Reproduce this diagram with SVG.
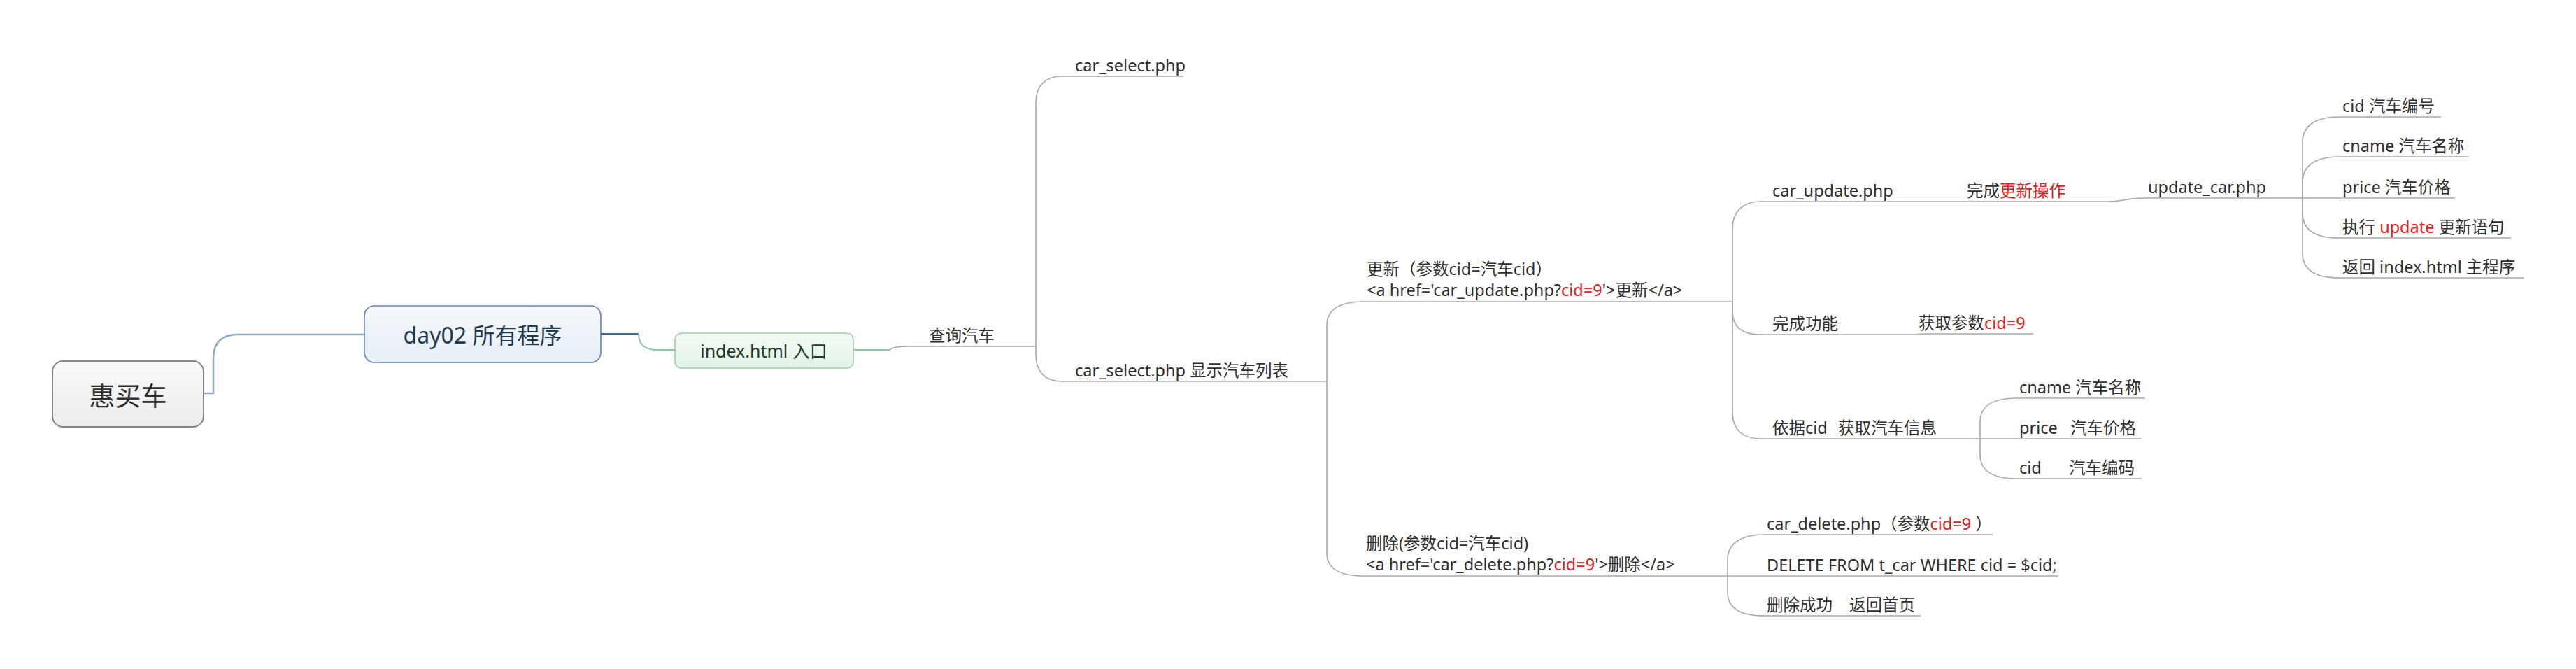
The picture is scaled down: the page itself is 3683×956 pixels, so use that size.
<svg xmlns="http://www.w3.org/2000/svg" width="3683" height="956" viewBox="0 0 3683 956">
<defs>
<linearGradient id="gRoot" x1="0" y1="0" x2="0" y2="1"><stop offset="0" stop-color="#f9f9f9"/><stop offset="1" stop-color="#ececec"/></linearGradient>
<linearGradient id="gMain" x1="0" y1="0" x2="0" y2="1"><stop offset="0" stop-color="#f5f8fc"/><stop offset="1" stop-color="#e6eef7"/></linearGradient>
<linearGradient id="gSub" x1="0" y1="0" x2="0" y2="1"><stop offset="0" stop-color="#f2faf3"/><stop offset="1" stop-color="#e3f3e6"/></linearGradient>
</defs>
<style>
text{font-family:"Noto Sans","Noto Sans CJK SC",sans-serif;fill:#2f2f2f;}
.t{font-size:23.5px;}
.r{fill:#e0201b;}
.c{fill:none;stroke:#a8a8a8;stroke-width:1.6;}
</style>
<rect width="3683" height="956" fill="#ffffff"/>
<g id="connectors">
<path d="M291,562 H305 V513 Q305,478 340,478 H521" fill="none" stroke="#8ba9c6" stroke-width="2.5"/>
<path d="M859,477 H913" fill="none" stroke="#3f6b8c" stroke-width="2"/>
<path d="M913,477 Q913,500 940,500 H965" fill="none" stroke="#92c9a2" stroke-width="2"/>
<path d="M1220,500 H1272" fill="none" stroke="#92c9a2" stroke-width="2"/>
<path class="c" d="M1272,500 Q1276,495 1300,495 H1481"/>
<path class="c" d="M1481,495 V147 C1481,122 1495,109 1518,109 H1692"/>
<path class="c" d="M1481,495 V507 C1481,532 1495,545 1518,545 H1897"/>
<path class="c" d="M1897,545 V465 C1897,442 1915,431 1950,431 H2477"/>
<path class="c" d="M1897,545 V790 C1897,813 1915,823 1950,823 H2470"/>
<path class="c" d="M2477,431 V327 C2477,302 2492,288 2517,288 H3015"/>
<path class="c" d="M2477,431 V445 C2477,468 2492,478 2517,478 H2740"/>
<path class="c" d="M2740,478 Q2745,477 2760,477 H2907"/>
<path class="c" d="M2477,431 V590 C2477,614 2492,627 2517,627 H2831"/>
<path class="c" d="M3015,288 C3035,288 3040,283 3067,283 H3292"/>
<path class="c" d="M3292,283 V203 C3292,180 3310,167 3345,167 H3490"/>
<path class="c" d="M3292,283 V260 C3292,237 3310,224 3345,224 H3529"/>
<path class="c" d="M3292,283 H3510"/>
<path class="c" d="M3292,283 V305 C3292,328 3310,340 3345,340 H3590"/>
<path class="c" d="M3292,283 V362 C3292,385 3310,397 3345,397 H3608"/>
<path class="c" d="M2831,627 V603 C2831,580 2850,569 2883,569 H3067"/>
<path class="c" d="M2831,627 H3061"/>
<path class="c" d="M2831,627 V650 C2831,673 2850,684 2883,684 H3062"/>
<path class="c" d="M2470,823 V800 C2470,776 2490,764 2522,764 H2849"/>
<path class="c" d="M2470,823 H2943"/>
<path class="c" d="M2470,823 V846 C2470,870 2490,880 2522,880 H2746"/>
</g>
<g id="n-root">
<rect x="75" y="516" width="216" height="94" rx="15" fill="url(#gRoot)" stroke="#858585" stroke-width="2"/>
<text x="183" y="565" font-size="37" text-anchor="middle" dominant-baseline="central">惠买车</text>
</g>
<g id="n-day02">
<rect x="521" y="437" width="338" height="81" rx="14" fill="url(#gMain)" stroke="#6384aa" stroke-width="1.6"/>
<text x="690" y="478" font-size="32" text-anchor="middle" dominant-baseline="central" style="fill:#223a4e">day02 所有程序</text>
</g>
<g id="n-index">
<rect x="965" y="476" width="255" height="50" rx="9" fill="url(#gSub)" stroke="#9ccfab" stroke-width="1.6"/>
<text x="1092" y="501" font-size="25" text-anchor="middle" dominant-baseline="central" style="fill:#263a2c">index.html 入口</text>
</g>
<g id="n-query"><text class="t" x="1328" y="488">查询汽车</text></g>
<g id="n-select1"><text class="t" x="1537" y="102">car_select.php</text></g>
<g id="n-select2"><text class="t" x="1537" y="538">car_select.php 显示汽车列表</text></g>
<g id="n-update">
<text class="t" x="1954" y="393">更新（参数cid=汽车cid）</text>
<text class="t" x="1954" y="423">&lt;a href='car_update.php?<tspan class="r">cid=9</tspan>'&gt;更新&lt;/a&gt;</text>
</g>
<g id="n-delete">
<text class="t" x="1953" y="785">删除(参数cid=汽车cid)</text>
<text class="t" x="1953" y="815">&lt;a href='car_delete.php?<tspan class="r">cid=9</tspan>'&gt;删除&lt;/a&gt;</text>
</g>
<g id="n-car-update"><text class="t" x="2534" y="281">car_update.php</text></g>
<g id="n-finish-update"><text class="t" x="2812" y="281">完成<tspan class="r">更新操作</tspan></text></g>
<g id="n-update-car"><text class="t" x="3071" y="276">update_car.php</text></g>
<g id="n-u1"><text class="t" x="3349" y="160">cid 汽车编号</text></g>
<g id="n-u2"><text class="t" x="3349" y="217">cname 汽车名称</text></g>
<g id="n-u3"><text class="t" x="3349" y="276">price 汽车价格</text></g>
<g id="n-u4"><text class="t" x="3349" y="333">执行 <tspan class="r">update</tspan> 更新语句</text></g>
<g id="n-u5"><text class="t" x="3349" y="390">返回 index.html 主程序</text></g>
<g id="n-finish"><text class="t" x="2534" y="471">完成功能</text></g>
<g id="n-getparam"><text class="t" x="2743" y="470">获取参数<tspan class="r">cid=9</tspan></text></g>
<g id="n-bycid"><text class="t" x="2534" y="620">依据cid<tspan x="2628">获取汽车信息</tspan></text></g>
<g id="n-c1"><text class="t" x="2887" y="562">cname 汽车名称</text></g>
<g id="n-c2"><text class="t" x="2887" y="620">price<tspan x="2960">汽车价格</tspan></text></g>
<g id="n-c3"><text class="t" x="2887" y="677">cid<tspan x="2958">汽车编码</tspan></text></g>
<g id="n-d1"><text class="t" x="2526" y="757">car_delete.php（参数<tspan class="r">cid=9</tspan> ）</text></g>
<g id="n-d2"><text class="t" x="2526" y="816">DELETE FROM t_car WHERE cid = $cid;</text></g>
<g id="n-d3"><text class="t" x="2526" y="873">删除成功<tspan x="2644">返回首页</tspan></text></g>
</svg>
